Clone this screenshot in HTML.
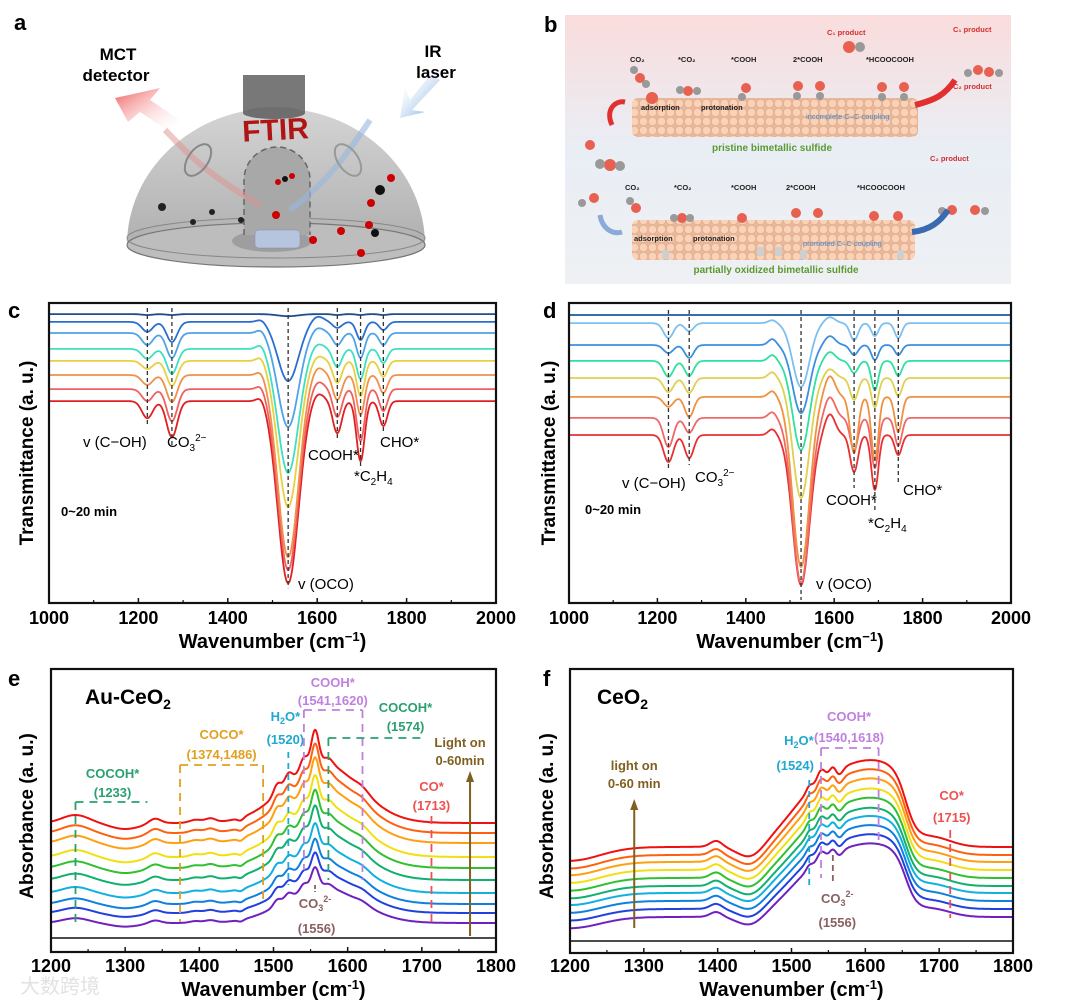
<!DOCTYPE html>
<html><head><meta charset="utf-8">
<style>
html,body{margin:0;padding:0;background:#fff;}
svg{display:block;font-family:"Liberation Sans","Noto Sans CJK SC",sans-serif;}
.b{font-weight:bold;}
</style></head>
<body>
<svg id="fig" width="1080" height="1003" viewBox="0 0 1080 1003" xmlns="http://www.w3.org/2000/svg">
<defs>
<linearGradient id="domeG" x1="0" y1="0" x2="0" y2="1"><stop offset="0" stop-color="#d4d4d4"/><stop offset="1" stop-color="#b0b0b0"/></linearGradient>
<linearGradient id="bgB" x1="0" y1="0" x2="0" y2="1"><stop offset="0" stop-color="#fadcdc"/><stop offset="0.5" stop-color="#e9eef5"/><stop offset="1" stop-color="#eef0f3"/></linearGradient>
<linearGradient id="redA" x1="1" y1="1" x2="0" y2="0"><stop offset="0" stop-color="#fff" stop-opacity="0"/><stop offset="1" stop-color="#f05a5a"/></linearGradient>
<linearGradient id="blueA" x1="0" y1="0" x2="1" y2="1"><stop offset="0" stop-color="#fff" stop-opacity="0"/><stop offset="1" stop-color="#5f9ad8"/></linearGradient>
<pattern id="balls" width="9" height="9" patternUnits="userSpaceOnUse"><rect width="9" height="9" fill="#e8b89a"/><circle cx="4.5" cy="4.5" r="4.2" fill="#fad2b8" stroke="#e0a888" stroke-width="0.6"/></pattern>
</defs>

<!-- Panel a -->
<g>
<text x="14" y="30" font-size="22" class="b">a</text>
<path d="M127,245 A149,137 0 0 1 425,245 Z" fill="url(#domeG)"/>
<ellipse cx="276" cy="245" rx="149" ry="22" fill="#bdbdbd" stroke="#777" stroke-width="1.2"/>
<ellipse cx="276" cy="238" rx="149" ry="20" fill="none" stroke="#888" stroke-width="1"/>
<ellipse cx="272" cy="241" rx="40" ry="11" fill="#9e9e9e"/>
<path d="M244,235 L244,180 A33,33 0 0 1 310,180 L310,235" fill="#a8a8a8" stroke="#666" stroke-width="1.5" stroke-dasharray="6,4"/>
<rect x="243" y="75" width="62" height="38" fill="#787878"/>
<ellipse cx="274" cy="113" rx="31" ry="6" fill="#6e6e6e"/>
<text x="276" y="140" font-size="30" class="b" fill="#b01515" text-anchor="middle" transform="rotate(-3 276 140)">FTIR</text>
<polygon points="115,98 160,88 150,100 180,120 170,132 140,112 128,122" fill="url(#redA)"/>
<polygon points="440,80 412,110 425,112 400,118 405,88 410,100 430,75" fill="url(#blueA)"/>
<path d="M165,130 C185,150 200,170 260,205" stroke="#e09090" stroke-width="6" fill="none" opacity="0.5"/>
<path d="M370,120 C350,150 330,180 290,210" stroke="#9ab8e0" stroke-width="6" fill="none" opacity="0.6"/>
<ellipse cx="198" cy="160" rx="10" ry="18" fill="none" stroke="#888" stroke-width="2" transform="rotate(35 198 160)"/>
<ellipse cx="348" cy="160" rx="10" ry="18" fill="none" stroke="#999" stroke-width="2" transform="rotate(-35 348 160)"/>
<g fill="#b7c4de" stroke="#8090b0" stroke-width="0.5"><rect x="255" y="230" width="45" height="18" rx="4"/></g>
<circle cx="278" cy="182" r="3" fill="#c00"/><circle cx="285" cy="179" r="3" fill="#111"/><circle cx="292" cy="176" r="3" fill="#c00"/>
<circle cx="371" cy="203" r="4" fill="#c00"/><circle cx="380" cy="190" r="5" fill="#111"/><circle cx="391" cy="178" r="4" fill="#c00"/>
<circle cx="276" cy="215" r="4" fill="#c00"/><circle cx="313" cy="240" r="4" fill="#c00"/><circle cx="341" cy="231" r="4" fill="#c00"/><circle cx="369" cy="225" r="4" fill="#c00"/><circle cx="375" cy="233" r="4" fill="#111"/><circle cx="361" cy="253" r="4" fill="#c00"/>
<circle cx="162" cy="207" r="4" fill="#222"/><circle cx="212" cy="212" r="3" fill="#222"/><circle cx="193" cy="222" r="3" fill="#222"/><circle cx="241" cy="220" r="3" fill="#222"/>
<text x="118" y="62" font-size="17" class="b" text-anchor="middle"><tspan x="118" y="60">MCT</tspan><tspan x="116" y="81">detector</tspan></text>
<text x="436" y="58" font-size="17" class="b" text-anchor="middle"><tspan x="433" y="57">IR</tspan><tspan x="436" y="78">laser</tspan></text>
</g>

<!-- Panel b -->
<g>
<text x="544" y="32" font-size="22" class="b">b</text>
<rect x="565" y="15" width="446" height="269" fill="url(#bgB)"/>
<rect x="632" y="98" width="286" height="39" rx="6" fill="url(#balls)"/>
<rect x="632" y="220" width="283" height="40" rx="6" fill="url(#balls)"/>
<g fill="#cfcfcf"><rect x="662" y="250" width="7" height="9"/><rect x="757" y="247" width="7" height="9"/><rect x="775" y="247" width="7" height="9"/><rect x="800" y="250" width="7" height="9"/><rect x="897" y="250" width="7" height="9"/></g>
<text x="772" y="151" font-size="10" class="b" fill="#5a9a30" text-anchor="middle">pristine bimetallic sulfide</text>
<text x="776" y="273" font-size="10" class="b" fill="#5a9a30" text-anchor="middle">partially oxidized bimetallic sulfide</text>
<g font-size="7.5" class="b" fill="#222">
<text x="630" y="62">CO₂</text><text x="678" y="62">*CO₂</text><text x="731" y="62">*COOH</text><text x="793" y="62">2*COOH</text><text x="866" y="62">*HCOOCOOH</text>
<text x="625" y="190">CO₂</text><text x="674" y="190">*CO₂</text><text x="731" y="190">*COOH</text><text x="786" y="190">2*COOH</text><text x="857" y="190">*HCOOCOOH</text>
<text x="641" y="110">adsorption</text><text x="701" y="110">protonation</text>
<text x="634" y="241">adsorption</text><text x="693" y="241">protonation</text>
</g>
<text x="806" y="119" font-size="7.5" fill="#4a8ad0">incomplete C–C coupling</text>
<text x="803" y="246" font-size="7.5" fill="#4a8ad0">promoted C–C coupling</text>
<g font-size="7.5" class="b" fill="#d03030">
<text x="827" y="35">C₁ product</text><text x="953" y="32">C₁ product</text><text x="953" y="89">C₂ product</text><text x="930" y="161">C₂ product</text>
</g>
<g fill="#e86050"><circle cx="640" cy="78" r="5"/><circle cx="688" cy="91" r="5"/><circle cx="746" cy="88" r="5"/><circle cx="798" cy="86" r="5"/><circle cx="820" cy="86" r="5"/><circle cx="882" cy="87" r="5"/><circle cx="904" cy="87" r="5"/><circle cx="849" cy="47" r="6"/><circle cx="978" cy="70" r="5"/><circle cx="989" cy="72" r="5"/><circle cx="652" cy="98" r="6"/><circle cx="636" cy="208" r="5"/><circle cx="682" cy="218" r="5"/><circle cx="742" cy="218" r="5"/><circle cx="796" cy="213" r="5"/><circle cx="818" cy="213" r="5"/><circle cx="874" cy="216" r="5"/><circle cx="898" cy="216" r="5"/><circle cx="952" cy="210" r="5"/><circle cx="975" cy="210" r="5"/><circle cx="610" cy="165" r="6"/><circle cx="590" cy="145" r="5"/><circle cx="594" cy="198" r="5"/></g>
<g fill="#999"><circle cx="634" cy="70" r="4"/><circle cx="646" cy="84" r="4"/><circle cx="680" cy="90" r="4"/><circle cx="697" cy="91" r="4"/><circle cx="742" cy="97" r="4"/><circle cx="797" cy="96" r="4"/><circle cx="820" cy="96" r="4"/><circle cx="882" cy="97" r="4"/><circle cx="904" cy="97" r="4"/><circle cx="860" cy="47" r="5"/><circle cx="968" cy="73" r="4"/><circle cx="999" cy="73" r="4"/><circle cx="600" cy="164" r="5"/><circle cx="620" cy="166" r="5"/><circle cx="630" cy="201" r="4"/><circle cx="674" cy="218" r="4"/><circle cx="690" cy="218" r="4"/><circle cx="942" cy="211" r="4"/><circle cx="985" cy="211" r="4"/><circle cx="582" cy="203" r="4"/></g>
<path d="M612,125 C605,110 615,100 625,102" stroke="#e03030" stroke-width="5" fill="none"/>
<path d="M600,215 C602,228 612,235 622,232" stroke="#8aaad8" stroke-width="5" fill="none"/>
<path d="M915,105 C935,100 945,95 955,80" stroke="#e03030" stroke-width="6" fill="none"/>
<path d="M912,232 C930,230 940,222 948,210" stroke="#3a6ab0" stroke-width="6" fill="none"/>
</g>

<g id="charts"></g>

<text x="20" y="993" font-size="20" fill="#e2e2e2">大数跨境</text>
</svg>

<script>
// ---------- Panel c data ----------
const cColors = ['#1f4e8c','#2a6fcf','#4fa3e8','#3fe0c0','#e8d040','#f0904a','#f06060','#e02020'];
const cBaseline = [96.3,93.7,90,84.7,80.7,76,71.3,67.3];
const cCenters = [1220,1275,1475,1535,1600,1645,1697,1748];
const cSigmas = [12,12,10,23,14,10,9,9];
const cDepth1220 = [0.3,3.3,4,3.3,2.7,3.3,4,5.7];
const cDepth1275 = [0.3,6.7,8.3,8.3,8.3,9,10.7,12];
const cBump1475 = [0,-1,-1.5,-2,-2,-2,-2,-2];
const cDepth1535 = [0.7,19.7,31.3,41.3,48.7,60.7,60.3,60.7];
const cBump1600 = [0,-2,-2,-2,-2,-3,-3,-3];
const cDepth1645 = [0.3,2,4,6,7.3,8.3,9.3,10.7];
const cDepth1697 = [0.3,6,8.3,10,11.7,13.3,17.3,20];
const cDepth1748 = [0.3,2.7,4,4.7,5.3,6,7.3,8.3];
const cXTicks = [1000,1200,1400,1600,1800,2000];

// ---------- Panel d data ----------
const dColors = ['#1a5aa0','#7cc0f0','#3a90e0','#30e0a0','#e0d050','#f09040','#f06868','#e83030'];
const dBaseline = [96,93.3,86,80.7,75,68.7,61.7,56];
const dCenters = [1225,1272,1460,1525,1590,1645,1692,1745];
const dSigmas = [11,10,9,19,12,9,8,8];
const dDepth1225 = [0,5,2.7,5.3,4.7,3.3,9.7,9];
const dDepth1272 = [0,2.7,4.3,5,5,6.7,5,7.7];
const dBump1460 = [0,-1,-2,-2,-2,-2,-2,-2];
const dDepth1525 = [0,21.3,22.7,29.7,40,56.7,55,50];
const dBump1590 = [0,-2,-3,-3,-3,-7,-7,-7];
const dDepth1645 = [0,5.7,3.3,4,7.3,18.7,10.7,12.3];
const dDepth1692 = [0,4.3,5,9.7,9.7,21,16.7,18.3];
const dDepth1745 = [0,5,3.3,5,6,11.7,9.3,6.7];

// ---------- Panel e data ----------
const eColors = ['#7020c0','#2040e0','#1080e0','#10b0e0','#10b070','#30c030','#f0e010','#ffa010','#ff6010','#f01010'];
const eBaseline = [29,39,48,59,72,84,95,109,119,129];
const eScale = [0.6,0.65,0.7,0.75,0.8,0.84,0.88,0.92,0.96,1.0];
const eCenters = [1233,1300,1340,1395,1415,1456,1505,1520,1541,1556,1574,1620,1565];
const eSigmas = [18,20,8,8,7,4,5,5,5,5,6,9,50];
const eAmps = [8,-6,5,3,4,-3,10,10,12,34,6,4,60];
const eXTicks = [1200,1300,1400,1500,1600,1700,1800];

// ---------- Panel f data ----------
const fColors = eColors;
const fBaseline = [36,44,52,60,67,75,83,91,98,106];
const fPlateau = [68,69,70,71,72,74,75,77,79,80];
const fCenters = [1200,1398,1445,1524,1540,1556,1565,1690,1605];
const fSigmas = [40,8,18,4,5,4,5,25,30];
const fAmps = [-14,6,-14,5,10,6,-6,10,8];

const NS='http://www.w3.org/2000/svg';
const root=document.getElementById('charts');
function el(tag,attrs,parent){const e=document.createElementNS(NS,tag);for(const k in attrs)e.setAttribute(k,attrs[k]);(parent||root).appendChild(e);return e;}
function txt(x,y,s,size,opts,parent){const t=el('text',Object.assign({x:x,y:y,'font-size':size},opts||{}),parent);t.innerHTML=s;return t;}
function g(w,c,s){return Math.exp(-0.5*((w-c)/s)*((w-c)/s));}

function frame(p,P){
  el('rect',{x:P.x0,y:P.y0,width:P.x1-P.x0,height:P.y1-P.y0,fill:'none',stroke:'#111','stroke-width':2.2},p);
}
function xAxis(p,P,ticks,minor,sx,labelY,title,titleY){
  ticks.forEach(t=>{
    el('line',{x1:sx(t),x2:sx(t),y1:P.y1,y2:P.y1-5,stroke:'#111','stroke-width':1.5},p);
    const tl=txt(sx(t),labelY,String(t),18,{'text-anchor':'middle','font-weight':'bold'},p);
    
    
  });
  minor.forEach(t=>el('line',{x1:sx(t),x2:sx(t),y1:P.y1,y2:P.y1-3,stroke:'#111','stroke-width':1.2},p));
  const tt=txt((P.x0+P.x1)/2,titleY,title,20,{'text-anchor':'middle','font-weight':'bold'},p);
  
  
}
function yTitle(p,x,y,s){
  const t=txt(x,y,s,19,{'text-anchor':'middle','font-weight':'bold',transform:'rotate(-90 '+x+' '+y+')'},p);
  
  
}
function line(p,w0,w1,sx,fn,color,width){
  let d='';for(let w=w0;w<=w1;w+=1){d+=(w===w0?'M':'L')+sx(w).toFixed(1)+','+fn(w).toFixed(1);}
  return el('path',{d:d,fill:'none',stroke:color,'stroke-width':width||1.8,'stroke-linejoin':'round'},p);
}
function vdash(p,x,y1,y2,color,dash,wd){el('line',{x1:x,x2:x,y1:y1,y2:y2,stroke:color,'stroke-width':wd||1.3,'stroke-dasharray':dash||'4,3'},p);}
function hdash(p,x1,x2,y,color,dash,wd){el('line',{x1:x1,x2:x2,y1:y,y2:y,stroke:color,'stroke-width':wd||1.8,'stroke-dasharray':dash||'8,6'},p);}

// ===== Panel c =====
(function(){
  const P={x0:49,x1:496,y0:303,y1:603};
  const sx=w=>P.x0+(w-1000)*(P.x1-P.x0)/1000;
  const sy=v=>P.y1-v*(P.y1-P.y0)/100;
  const p=el('g',{});
  
  
  txt(8,318,'c',22,{'font-weight':'bold'},p);
  const depths=[cDepth1220,cDepth1275,cBump1475,cDepth1535,cBump1600,cDepth1645,cDepth1697,cDepth1748];
  const fns=[];
  for(let i=cBaseline.length-1;i>=0;i--){
    const fn=w=>{let v=cBaseline[i];for(let k=0;k<cCenters.length;k++)v-=depths[k][i]*g(w,cCenters[k],cSigmas[k]);return sy(v);};
    fns[i]=fn;
    const s=line(p,1000,2000,sx,fn,cColors[i],1.8);
    
    
  }
  [0,1,3,5,6,7].forEach(k=>{const c=cCenters[k];vdash(p,sx(c),P.y0+5,fns[7](c)+(k===3?5:8),'#333','4,3',1.3);});
  frame(p,P);
  xAxis(p,P,cXTicks,[1100,1300,1500,1700,1900],sx,624,'Wavenumber (cm<tspan dy="-7" font-size="13">−1</tspan><tspan dy="7">)</tspan>',648);
  yTitle(p,33,453,'Transmittance (a. u.)');
  txt(83,447,'v (C−OH)',15,{},p);
  txt(167,447,'CO<tspan dy="4" font-size="10">3</tspan><tspan dy="-10" font-size="10">2−</tspan>',15,{},p);
  txt(308,460,'COOH*',15,{},p);
  txt(354,481,'*C<tspan dy="4" font-size="10">2</tspan><tspan dy="-4">H</tspan><tspan dy="4" font-size="10">4</tspan>',15,{},p);
  txt(380,447,'CHO*',15,{},p);
  txt(298,589,'v (OCO)',15,{},p);
  txt(61,516,'0~20 min',13,{'font-weight':'bold'},p);
})();

// ===== Panel d =====
(function(){
  const P={x0:569,x1:1011,y0:303,y1:603};
  const sx=w=>P.x0+(w-1000)*(P.x1-P.x0)/1000;
  const sy=v=>P.y1-v*(P.y1-P.y0)/100;
  const p=el('g',{});
  
  
  txt(543,318,'d',22,{'font-weight':'bold'},p);
  const depths=[dDepth1225,dDepth1272,dBump1460,dDepth1525,dBump1590,dDepth1645,dDepth1692,dDepth1745];
  for(let i=dBaseline.length-1;i>=0;i--){
    const fn=w=>{let v=dBaseline[i];for(let k=0;k<dCenters.length;k++)v-=depths[k][i]*g(w,dCenters[k],dSigmas[k]);return sy(v);};
    const s=line(p,1000,2000,sx,fn,dColors[i],1.8);
    
    
  }
  vdash(p,sx(1225),310,470,'#333');vdash(p,sx(1272),310,465,'#333');vdash(p,sx(1525),310,600,'#333');
  vdash(p,sx(1645),310,488,'#333');vdash(p,sx(1692),310,512,'#333');vdash(p,sx(1745),310,482,'#333');
  frame(p,P);
  xAxis(p,P,cXTicks,[1100,1300,1500,1700,1900],sx,624,'Wavenumber (cm<tspan dy="-7" font-size="13">−1</tspan><tspan dy="7">)</tspan>',648);
  yTitle(p,555,453,'Transmittance (a. u.)');
  txt(622,488,'v (C−OH)',15,{},p);
  txt(695,482,'CO<tspan dy="4" font-size="10">3</tspan><tspan dy="-10" font-size="10">2−</tspan>',15,{},p);
  txt(826,505,'COOH*',15,{},p);
  txt(868,528,'*C<tspan dy="4" font-size="10">2</tspan><tspan dy="-4">H</tspan><tspan dy="4" font-size="10">4</tspan>',15,{},p);
  txt(903,495,'CHO*',15,{},p);
  txt(816,589,'v (OCO)',15,{},p);
  txt(585,514,'0~20 min',13,{'font-weight':'bold'},p);
})();

// ===== Panel e =====
(function(){
  const P={x0:51,x1:496,y0:669,y1:952};
  const sx=w=>P.x0+(w-1200)*(P.x1-P.x0)/600;
  const sy=v=>P.y1-v;
  const p=el('g',{});
  
  
  txt(8,686,'e',22,{'font-weight':'bold'},p);
  for(let i=0;i<eBaseline.length;i++){
    const fn=w=>{let v=eBaseline[i];for(let k=0;k<eCenters.length;k++)v+=eScale[i]*eAmps[k]*g(w,eCenters[k],eSigmas[k]);return sy(v);};
    const s=line(p,1200,1800,sx,fn,eColors[i],2);
    
    
  }
  el('line',{x1:P.x0,x2:P.x1,y1:938,y2:938,stroke:'#111','stroke-width':1.5},p);
  const gr='#2aa070',og='#e0a020',cy='#20a8d0',pu='#c080e0',rd='#f05050',br='#8a6060',bn='#806020';
  hdash(p,sx(1233),sx(1330),802,gr);vdash(p,sx(1233),802,922,gr,'8,6',1.8);
  txt(sx(1283),778,'COCOH*',13,{'text-anchor':'middle',fill:gr,'font-weight':'bold'},p);
  txt(sx(1283),797,'(1233)',13,{'text-anchor':'middle',fill:gr,'font-weight':'bold'},p);
  hdash(p,sx(1374),sx(1486),765,og);vdash(p,sx(1374),765,922,og,'8,6',1.8);vdash(p,sx(1486),765,900,og,'8,6',1.8);
  txt(sx(1430),739,'COCO*',13,{'text-anchor':'middle',fill:og,'font-weight':'bold'},p);
  txt(sx(1430),759,'(1374,1486)',13,{'text-anchor':'middle',fill:og,'font-weight':'bold'},p);
  vdash(p,sx(1520),752,885,cy,'6,5',1.8);
  txt(sx(1516),721,'H<tspan dy="3" font-size="9">2</tspan><tspan dy="-3">O*</tspan>',13,{'text-anchor':'middle',fill:cy,'font-weight':'bold'},p);
  txt(sx(1516),744,'(1520)',13,{'text-anchor':'middle',fill:cy,'font-weight':'bold'},p);
  hdash(p,sx(1541),sx(1620),710,pu);vdash(p,sx(1541),710,870,pu,'8,6',1.8);vdash(p,sx(1620),710,880,pu,'8,6',1.8);
  txt(sx(1580),687,'COOH*',13,{'text-anchor':'middle',fill:pu,'font-weight':'bold'},p);
  txt(sx(1580),705,'(1541,1620)',13,{'text-anchor':'middle',fill:pu,'font-weight':'bold'},p);
  hdash(p,sx(1574),sx(1700),738,gr);vdash(p,sx(1574),738,880,gr,'8,6',1.8);
  txt(sx(1678),712,'COCOH*',13,{'text-anchor':'middle',fill:gr,'font-weight':'bold'},p);
  txt(sx(1678),731,'(1574)',13,{'text-anchor':'middle',fill:gr,'font-weight':'bold'},p);
  vdash(p,sx(1713),816,922,rd,'8,6',1.8);
  txt(sx(1713),791,'CO*',13,{'text-anchor':'middle',fill:rd,'font-weight':'bold'},p);
  txt(sx(1713),810,'(1713)',13,{'text-anchor':'middle',fill:rd,'font-weight':'bold'},p);
  vdash(p,sx(1556),885,892,br,'4,2',1.8);
  txt(sx(1556),908,'CO<tspan dy="3" font-size="9">3</tspan><tspan dy="-9" font-size="9">2-</tspan>',13,{'text-anchor':'middle',fill:br,'font-weight':'bold'},p);
  txt(sx(1558),933,'(1556)',13,{'text-anchor':'middle',fill:br,'font-weight':'bold'},p);
  const ax=sx(1765);
  el('line',{x1:ax,x2:ax,y1:936,y2:780,stroke:bn,'stroke-width':2},p);
  el('polygon',{points:(ax-4)+',782 '+(ax+4)+',782 '+ax+',771',fill:bn},p);
  txt(ax-10,747,'Light on',13,{'text-anchor':'middle',fill:bn,'font-weight':'bold'},p);
  txt(ax-10,765,'0-60min',13,{'text-anchor':'middle',fill:bn,'font-weight':'bold'},p);
  txt(85,704,'Au-CeO<tspan dy="5" font-size="14">2</tspan>',21,{'font-weight':'bold'},p);
  frame(p,P);
  xAxis(p,P,eXTicks,[1250,1350,1450,1550,1650,1750],sx,972,'Wavenumber (cm<tspan dy="-7" font-size="13">-1</tspan><tspan dy="7">)</tspan>',996);
  yTitle(p,33,816,'Absorbance (a. u.)');
})();

// ===== Panel f =====
(function(){
  const P={x0:570,x1:1013,y0:669,y1:953};
  const sx=w=>P.x0+(w-1200)*(P.x1-P.x0)/600;
  const sy=v=>P.y1-v;
  const p=el('g',{});
  
  
  txt(543,686,'f',22,{'font-weight':'bold'},p);
  for(let i=0;i<fBaseline.length;i++){
    const sc=0.8+0.02*i;
    const fn=w=>{let v=fBaseline[i]+fPlateau[i]/((1+Math.exp(-(w-1505)/22))*(1+Math.exp((w-1655)/8)));
      for(let k=0;k<fCenters.length;k++)v+=sc*fAmps[k]*g(w,fCenters[k],fSigmas[k]);return sy(v);};
    const s=line(p,1200,1800,sx,fn,fColors[i],2);
    
    
  }
  el('line',{x1:P.x0,x2:P.x1,y1:941,y2:941,stroke:'#111','stroke-width':1.5},p);
  const cy='#20a8d0',pu='#c080e0',rd='#f05050',br='#8a6060',bn='#806020';
  vdash(p,sx(1524),780,885,cy,'6,5',1.8);
  txt(sx(1510),745,'H<tspan dy="3" font-size="9">2</tspan><tspan dy="-3">O*</tspan>',13,{'text-anchor':'middle',fill:cy,'font-weight':'bold'},p);
  txt(sx(1505),770,'(1524)',13,{'text-anchor':'middle',fill:cy,'font-weight':'bold'},p);
  hdash(p,sx(1540),sx(1618),748,pu);vdash(p,sx(1540),748,878,pu,'8,6',1.8);vdash(p,sx(1618),748,845,pu,'8,6',1.8);
  txt(sx(1578),721,'COOH*',13,{'text-anchor':'middle',fill:pu,'font-weight':'bold'},p);
  txt(sx(1578),742,'(1540,1618)',13,{'text-anchor':'middle',fill:pu,'font-weight':'bold'},p);
  vdash(p,sx(1715),830,918,rd,'8,6',1.8);
  txt(sx(1717),800,'CO*',13,{'text-anchor':'middle',fill:rd,'font-weight':'bold'},p);
  txt(sx(1717),822,'(1715)',13,{'text-anchor':'middle',fill:rd,'font-weight':'bold'},p);
  vdash(p,sx(1556),855,882,br,'6,4',1.8);
  txt(sx(1562),903,'CO<tspan dy="3" font-size="9">3</tspan><tspan dy="-9" font-size="9">2-</tspan>',13,{'text-anchor':'middle',fill:br,'font-weight':'bold'},p);
  txt(sx(1562),927,'(1556)',13,{'text-anchor':'middle',fill:br,'font-weight':'bold'},p);
  const ax=sx(1287);
  el('line',{x1:ax,x2:ax,y1:928,y2:808,stroke:bn,'stroke-width':2},p);
  el('polygon',{points:(ax-4)+',810 '+(ax+4)+',810 '+ax+',799',fill:bn},p);
  txt(ax,770,'light on',13,{'text-anchor':'middle',fill:bn,'font-weight':'bold'},p);
  txt(ax,788,'0-60 min',13,{'text-anchor':'middle',fill:bn,'font-weight':'bold'},p);
  txt(597,704,'CeO<tspan dy="5" font-size="14">2</tspan>',21,{'font-weight':'bold'},p);
  frame(p,P);
  xAxis(p,P,eXTicks,[1250,1350,1450,1550,1650,1750],sx,972,'Wavenumber (cm<tspan dy="-7" font-size="13">-1</tspan><tspan dy="7">)</tspan>',996);
  yTitle(p,553,816,'Absorbance (a. u.)');
})();
</script>
</body></html>
